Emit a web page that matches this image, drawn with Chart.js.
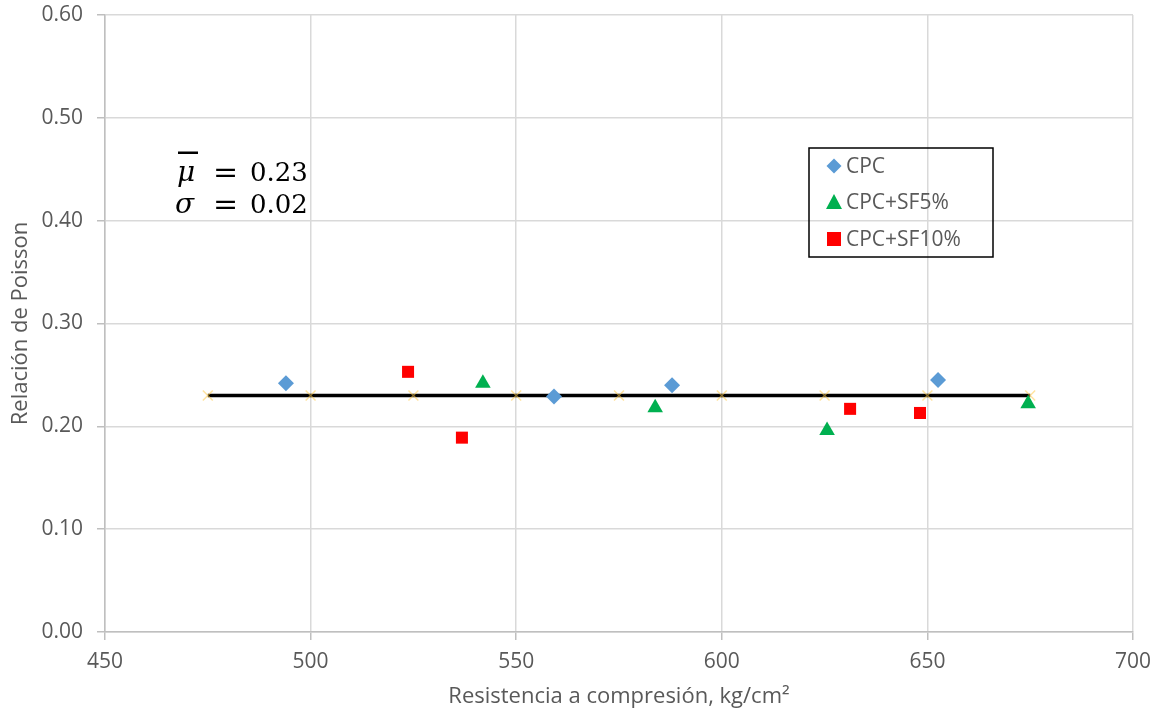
<!DOCTYPE html>
<html>
<head>
<meta charset="utf-8">
<script src="https://cdn.jsdelivr.net/npm/chart.js@4/dist/chart.umd.min.js"></script>
<style>
html,body{margin:0;padding:0;background:#fff;}
#wrap{width:1158px;height:717px;}
</style>
</head>
<body>
<div id="wrap"><canvas id="c" width="1158" height="717"></canvas></div>
<script>
// Data
const cpcX = [494.0, 559.2, 587.9, 652.6];
const cpcY = [0.242, 0.229, 0.240, 0.245];
const sf5X = [541.9, 583.8, 625.6, 674.5];
const sf5Y = [0.242, 0.218, 0.196, 0.222];
const sf10X = [523.7, 536.8, 631.2, 648.2];
const sf10Y = [0.253, 0.189, 0.217, 0.213];
const meanX = [475, 500, 525, 550, 575, 600, 625, 650, 675];
const meanY = [0.23, 0.23, 0.23, 0.23, 0.23, 0.23, 0.23, 0.23, 0.23];
const seriesNames = ['CPC', 'CPC+SF5%', 'CPC+SF10%'];
const statsText = ['0.23', '0.02'];
const xTitle = 'Resistencia a compresión, kg/cm²';
const yTitle = 'Relación de Poisson';

const toPts = (xs, ys) => xs.map((x, i) => ({x: x, y: ys[i]}));

const font = "'Open Sans', 'Liberation Sans', sans-serif";

const overlay = {
  id: 'overlay',
  afterDatasetsDraw(chart) {
    const ctx = chart.ctx;
    // statistics text
    ctx.save();
    ctx.fillStyle = '#000';
    ctx.textBaseline = 'alphabetic';
    const serif = "'DejaVu Serif', 'Liberation Serif', serif";
    ctx.font = "italic 28px " + serif;
    ctx.fillText('μ', 177, 181);
    ctx.fillText('σ', 175, 213);
    ctx.font = "30px " + serif;
    ctx.fillText('=', 213, 182);
    ctx.fillText('=', 213, 214);
    ctx.font = "26px " + serif;
    ctx.fillText(statsText[0], 250, 181);
    ctx.fillText(statsText[1], 250, 213);
    ctx.fillRect(178, 151.5, 20, 2.5);
    ctx.restore();

    // legend box
    ctx.save();
    const lx = 809, ly = 148, lw = 184, lh = 109;
    ctx.strokeStyle = '#000';
    ctx.lineWidth = 1.5;
    ctx.strokeRect(lx, ly, lw, lh);
    const rowY = [166, 202, 239];
    const ds = chart.data.datasets;
    ctx.font = "21px " + font;
    ctx.textBaseline = 'middle';
    for (let i = 0; i < 3; i++) {
      const d = ds[i];
      const cx = 834, cy = rowY[i];
      ctx.fillStyle = d.backgroundColor;
      ctx.beginPath();
      if (d.pointStyle === 'rectRot') {
        const r = 7.5;
        ctx.moveTo(cx, cy - r); ctx.lineTo(cx + r, cy); ctx.lineTo(cx, cy + r); ctx.lineTo(cx - r, cy);
      } else if (d.pointStyle === 'triangle') {
        ctx.moveTo(cx, cy - 8); ctx.lineTo(cx + 8, cy + 7); ctx.lineTo(cx - 8, cy + 7);
      } else {
        ctx.rect(cx - 7, cy - 7, 14, 14);
      }
      ctx.closePath();
      ctx.fill();
      ctx.fillStyle = '#595959';
      ctx.fillText(seriesNames[i], 846, cy + 1);
    }
    ctx.restore();
  }
};

new Chart(document.getElementById('c'), {
  type: 'scatter',
  data: {
    datasets: [
      {label: seriesNames[0], data: toPts(cpcX, cpcY), pointStyle: 'rectRot', pointRadius: 8,
       backgroundColor: '#5B9BD5', borderColor: '#5B9BD5', borderWidth: 0, order: 1},
      {label: seriesNames[1], data: toPts(sf5X, sf5Y), pointStyle: 'triangle', pointRadius: 9,
       backgroundColor: '#00B050', borderColor: '#00B050', borderWidth: 0, order: 1},
      {label: seriesNames[2], data: toPts(sf10X, sf10Y), pointStyle: 'rect', pointRadius: 8.5,
       backgroundColor: '#FF0000', borderColor: '#FF0000', borderWidth: 0, order: 1},
      {label: 'media', data: toPts(meanX, meanY), showLine: true, borderColor: '#000', borderWidth: 3.5,
       pointStyle: 'crossRot', pointRadius: 7, pointBorderColor: 'rgba(255,204,80,0.55)', pointBorderWidth: 1.5,
       backgroundColor: 'transparent', order: 5}
    ]
  },
  options: {
    responsive: false,
    animation: false,
    devicePixelRatio: 1,
    layout: {padding: {left: 0, right: 25, top: 15, bottom: 0}},
    plugins: {legend: {display: false}, tooltip: {enabled: false}},
    scales: {
      x: {
        type: 'linear', min: 450, max: 700,
        ticks: {stepSize: 50, color: '#595959', font: {size: 21, family: font}, padding: 9},
        grid: {color: '#d9d9d9', lineWidth: 1.5, tickLength: 8, tickColor: '#bfbfbf'},
        border: {color: '#bfbfbf', width: 1.5},
        title: {display: true, text: xTitle, color: '#595959', font: {size: 22, family: font}, padding: {top: 0, bottom: 7}},
        afterFit(s) { s.height = 85; s.paddingLeft = 0; s.paddingRight = 0; }
      },
      y: {
        type: 'linear', min: 0, max: 0.6,
        ticks: {stepSize: 0.1, color: '#595959', font: {size: 21, family: font}, padding: 14,
                callback: v => v.toFixed(2)},
        grid: {color: '#d9d9d9', lineWidth: 1.5, tickLength: 8, tickColor: '#bfbfbf'},
        border: {color: '#bfbfbf', width: 1.5},
        title: {display: true, text: yTitle, color: '#595959', font: {size: 22, family: font}, padding: {top: 8, bottom: 0}},
        afterFit(s) { s.width = 105; s.paddingTop = 0; s.paddingBottom = 0; }
      }
    }
  },
  plugins: [overlay]
});
</script>
</body>
</html>
